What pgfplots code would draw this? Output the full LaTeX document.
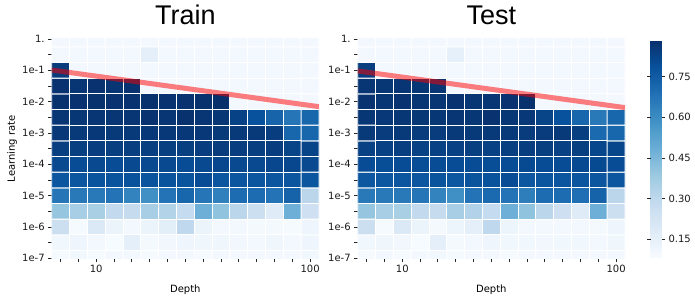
\documentclass[border=0pt]{standalone}
\usepackage{pgfplots}
\pgfplotsset{compat=1.18}
\usepackage{pgfplotstable}
\usepackage{fontspec}
\setmainfont{DejaVu Sans}
\newfontfamily\titlefont{Liberation Sans}

\pgfplotstableread[row sep=\\]{
c r tr te\\
0 0 0.09 0.09\\ 1 0 0.11 0.10\\ 2 0 0.09 0.09\\ 3 0 0.10 0.10\\ 4 0 0.10 0.11\\ 5 0 0.09 0.09\\ 6 0 0.10 0.10\\ 7 0 0.10 0.10\\ 8 0 0.09 0.09\\ 9 0 0.10 0.10\\ 10 0 0.10 0.10\\ 11 0 0.10 0.10\\ 12 0 0.10 0.10\\ 13 0 0.10 0.10\\ 14 0 0.11 0.10\\
0 1 0.11 0.11\\ 1 1 0.12 0.115\\ 2 1 0.10 0.105\\ 3 1 0.085 0.085\\ 4 1 0.16 0.155\\ 5 1 0.095 0.095\\ 6 1 0.105 0.10\\ 7 1 0.12 0.12\\ 8 1 0.115 0.11\\ 9 1 0.115 0.11\\ 10 1 0.105 0.105\\ 11 1 0.10 0.11\\ 12 1 0.115 0.11\\ 13 1 0.10 0.10\\ 14 1 0.12 0.115\\
0 2 0.26 0.26\\ 1 2 0.09 0.09\\ 2 2 0.195 0.195\\ 3 2 0.13 0.13\\ 4 2 0.10 0.095\\ 5 2 0.13 0.125\\ 6 2 0.165 0.16\\ 7 2 0.30 0.30\\ 8 2 0.13 0.125\\ 9 2 0.10 0.10\\ 10 2 0.10 0.10\\ 11 2 0.095 0.10\\ 12 2 0.095 0.10\\ 13 2 0.09 0.095\\ 14 2 0.12 0.12\\
0 3 0.40 0.40\\ 1 3 0.36 0.36\\ 2 3 0.355 0.355\\ 3 3 0.29 0.29\\ 4 3 0.28 0.28\\ 5 3 0.36 0.36\\ 6 3 0.33 0.335\\ 7 3 0.285 0.285\\ 8 3 0.48 0.48\\ 9 3 0.41 0.41\\ 10 3 0.31 0.31\\ 11 3 0.26 0.255\\ 12 3 0.18 0.18\\ 13 3 0.48 0.48\\ 14 3 0.25 0.26\\
0 4 0.67 0.66\\ 1 4 0.66 0.66\\ 2 4 0.66 0.66\\ 3 4 0.68 0.67\\ 4 4 0.63 0.63\\ 5 4 0.59 0.59\\ 6 4 0.68 0.68\\ 7 4 0.72 0.71\\ 8 4 0.67 0.68\\ 9 4 0.64 0.645\\ 10 4 0.70 0.70\\ 11 4 0.70 0.70\\ 12 4 0.68 0.69\\ 13 4 0.73 0.73\\ 14 4 0.31 0.31\\
0 5 0.77 0.765\\ 1 5 0.77 0.765\\ 2 5 0.775 0.77\\ 3 5 0.775 0.765\\ 4 5 0.78 0.775\\ 5 5 0.775 0.765\\ 6 5 0.78 0.775\\ 7 5 0.775 0.78\\ 8 5 0.80 0.80\\ 9 5 0.77 0.765\\ 10 5 0.77 0.77\\ 11 5 0.77 0.77\\ 12 5 0.77 0.77\\ 13 5 0.77 0.77\\ 14 5 0.77 0.77\\
0 6 0.81 0.80\\ 1 6 0.80 0.795\\ 2 6 0.81 0.80\\ 3 6 0.80 0.795\\ 4 6 0.81 0.80\\ 5 6 0.81 0.80\\ 6 6 0.81 0.80\\ 7 6 0.80 0.795\\ 8 6 0.81 0.80\\ 9 6 0.815 0.805\\ 10 6 0.81 0.80\\ 11 6 0.81 0.80\\ 12 6 0.815 0.805\\ 13 6 0.815 0.805\\ 14 6 0.81 0.80\\
0 7 0.84 0.835\\ 1 7 0.84 0.835\\ 2 7 0.845 0.84\\ 3 7 0.84 0.835\\ 4 7 0.84 0.835\\ 5 7 0.84 0.835\\ 6 7 0.84 0.84\\ 7 7 0.84 0.835\\ 8 7 0.845 0.84\\ 9 7 0.85 0.845\\ 10 7 0.845 0.84\\ 11 7 0.84 0.835\\ 12 7 0.845 0.84\\ 13 7 0.825 0.82\\ 14 7 0.825 0.82\\
0 8 0.86 0.855\\ 1 8 0.855 0.85\\ 2 8 0.86 0.855\\ 3 8 0.855 0.85\\ 4 8 0.855 0.85\\ 5 8 0.86 0.855\\ 6 8 0.86 0.855\\ 7 8 0.86 0.855\\ 8 8 0.86 0.855\\ 9 8 0.855 0.85\\ 10 8 0.855 0.85\\ 11 8 0.855 0.855\\ 12 8 0.845 0.84\\ 13 8 0.72 0.71\\ 14 8 0.72 0.72\\
0 9 0.87 0.865\\ 1 9 0.865 0.86\\ 2 9 0.87 0.865\\ 3 9 0.87 0.865\\ 4 9 0.87 0.865\\ 5 9 0.875 0.87\\ 6 9 0.87 0.865\\ 7 9 0.88 0.875\\ 8 9 0.87 0.865\\ 9 9 0.865 0.86\\ 10 9 0.83 0.825\\ 11 9 0.785 0.785\\ 12 9 0.725 0.72\\ 13 9 0.67 0.66\\ 14 9 0.72 0.72\\
0 10 0.88 0.875\\ 1 10 0.875 0.87\\ 2 10 0.88 0.875\\ 3 10 0.875 0.87\\ 4 10 0.875 0.87\\ 5 10 0.88 0.875\\ 6 10 0.875 0.87\\ 7 10 0.875 0.87\\ 8 10 0.88 0.875\\ 9 10 0.885 0.88\\ 10 10 0.10 0.10\\ 11 10 0.10 0.10\\ 12 10 0.10 0.10\\ 13 10 0.10 0.10\\ 14 10 0.10 0.10\\
0 11 0.875 0.87\\ 1 11 0.87 0.865\\ 2 11 0.875 0.87\\ 3 11 0.87 0.865\\ 4 11 0.875 0.87\\ 5 11 0.10 0.10\\ 6 11 0.10 0.10\\ 7 11 0.10 0.10\\ 8 11 0.10 0.10\\ 9 11 0.10 0.10\\ 10 11 0.10 0.10\\ 11 11 0.10 0.10\\ 12 11 0.10 0.10\\ 13 11 0.10 0.10\\ 14 11 0.10 0.10\\
0 12 0.85 0.845\\ 1 12 0.10 0.10\\ 2 12 0.10 0.10\\ 3 12 0.10 0.10\\ 4 12 0.10 0.10\\ 5 12 0.10 0.10\\ 6 12 0.10 0.10\\ 7 12 0.10 0.10\\ 8 12 0.10 0.10\\ 9 12 0.10 0.10\\ 10 12 0.10 0.10\\ 11 12 0.10 0.10\\ 12 12 0.10 0.10\\ 13 12 0.10 0.10\\ 14 12 0.10 0.10\\
0 13 0.10 0.10\\ 1 13 0.10 0.10\\ 2 13 0.10 0.10\\ 3 13 0.10 0.10\\ 4 13 0.10 0.10\\ 5 13 0.155 0.15\\ 6 13 0.10 0.10\\ 7 13 0.10 0.10\\ 8 13 0.10 0.10\\ 9 13 0.10 0.10\\ 10 13 0.10 0.10\\ 11 13 0.10 0.10\\ 12 13 0.10 0.10\\ 13 13 0.10 0.10\\ 14 13 0.10 0.10\\
0 14 0.10 0.10\\ 1 14 0.10 0.10\\ 2 14 0.10 0.10\\ 3 14 0.10 0.10\\ 4 14 0.10 0.10\\ 5 14 0.10 0.10\\ 6 14 0.10 0.10\\ 7 14 0.10 0.10\\ 8 14 0.10 0.10\\ 9 14 0.10 0.10\\ 10 14 0.10 0.10\\ 11 14 0.10 0.10\\ 12 14 0.10 0.10\\ 13 14 0.10 0.10\\ 14 14 0.10 0.10\\
}\hmdata

\pgfplotsset{
  colormap={blues}{rgb255=(247,251,255) rgb255=(222,235,247) rgb255=(198,219,239) rgb255=(158,202,225) rgb255=(107,174,214) rgb255=(66,146,198) rgb255=(33,113,181) rgb255=(8,81,156) rgb255=(8,48,107)},
  hm/.style={
    scale only axis, width=267.3pt, height=219.3pt,
    xmin=-0.5, xmax=14.5, ymin=0, ymax=14,
    axis line style={draw=none},
    tick align=outside, tick pos=left, major tick length=3.5pt,
    tick style={black!85, line width=0.8pt},
    xtick={0,...,14},
    xticklabels={{},{},10,{},{},{},{},{},{},{},{},{},{},{},100},
    ytick={0,...,14},
    yticklabels={1e-7,{},1e-6,{},1e-5,{},1e-4,{},1e-3,{},1e-2,{},1e-1,{},1.},
    tick label style={font=\fontsize{10}{12}\selectfont, text=black!90},
    colormap name=blues,
    point meta min=0.082, point meta max=0.885,
    title style={font=\titlefont\fontsize{27}{30}\selectfont, at={(axis description cs:0.5,1.041)}, anchor=base},
    xlabel style={font=\fontsize{10}{12}\selectfont, at={(axis description cs:0.5,-0.1446)}, anchor=center},
    ylabel style={font=\fontsize{10}{12}\selectfont, at={(axis description cs:-0.1485,0.5)}, anchor=center},
  },
  hmcell/.style={matrix plot*, mesh/cols=15, shader=faceted, faceted color=white, line width=0.9pt},
  redline/.style={draw=red, opacity=0.5, line width=5pt, forget plot},
}

\begin{document}
\begin{tikzpicture}
\path[use as bounding box] (0,0) rectangle (695pt,305pt);
\begin{axis}[hm, at={(51.7pt,46.7pt)}, anchor=south west,
  title={Train}, xlabel={Depth}, ylabel={Learning rate}]
\addplot[hmcell, point meta=\thisrow{tr}] table[x=c, y=r] {\hmdata};
\addplot[redline] coordinates {(-0.5,12.02) (14.5,9.68)};
\end{axis}
\begin{axis}[hm, at={(357.7pt,46.7pt)}, anchor=south west,
  title={Test}, xlabel={Depth},
  colorbar right,
  colorbar style={
    at={(parent axis.north east)}, anchor=north west, xshift=17pt, yshift=-1pt,
    scale only axis, width=11pt, height=217.7pt,
    axis line style={draw=none},
    ytick={0.15,0.30,0.45,0.60,0.75},
    tick align=outside, major tick length=3.5pt,
    tick style={black!85, line width=0.8pt},
    yticklabel style={font=\fontsize{10}{12}\selectfont, text=black!90,
      /pgf/number format/.cd, fixed, fixed zerofill, precision=2, assume math mode=true},
  }]
\addplot[hmcell, point meta=\thisrow{te}] table[x=c, y=r] {\hmdata};
\addplot[redline] coordinates {(-0.5,11.96) (14.5,9.62)};
\end{axis}
\end{tikzpicture}
\end{document}
